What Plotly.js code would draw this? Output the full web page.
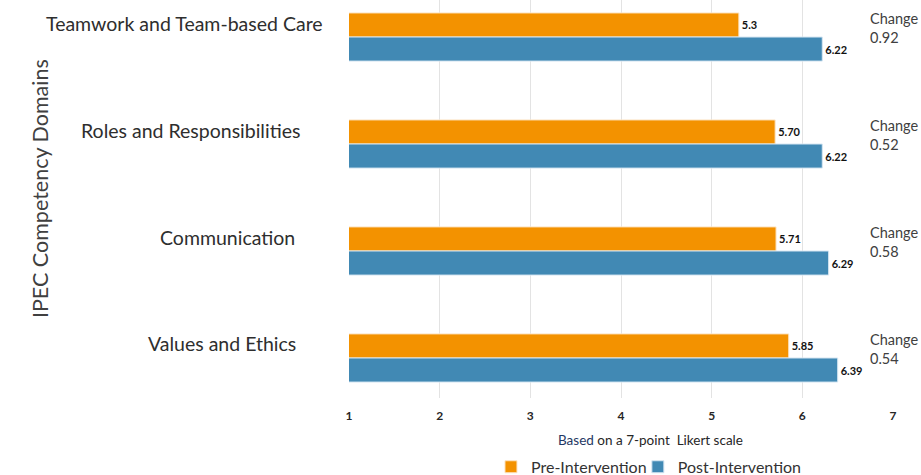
<!DOCTYPE html>
<html>
<head>
<meta charset="utf-8">
<script src="https://cdn.plot.ly/plotly-3.0.1.min.js"></script>
<style>
html,body{margin:0;padding:0;background:#fff;}
#chart{width:921px;height:475px;}
</style>
</head>
<body>
<div id="chart"></div>
<script>
var categories = ["Teamwork and Team-based Care", "Roles and Responsibilities", "Communication", "Values and Ethics"];
var preValues = [5.30, 5.70, 5.71, 5.85];
var postValues = [6.22, 6.22, 6.29, 6.39];
var preLabels = ["5.3", "5.70", "5.71", "5.85"];
var postLabels = ["6.22", "6.22", "6.29", "6.39"];
var changeValues = ["0.92", "0.52", "0.58", "0.54"];
var xTicks = [1, 2, 3, 4, 5, 6, 7];

var labelFont = "Lato, 'Open Sans', sans-serif";
var textColor = "#404040";

var tracePre = {
  type: "bar", orientation: "h", name: "Pre-Intervention", legend: "legend",
  y: categories, x: preValues, base: 0,
  text: preLabels, textposition: "outside", cliponaxis: false,
  textfont: {family: labelFont, size: 11, color: "#111", weight: "bold"},
  marker: {color: "#F39200", line: {color: "#FCE4C4", width: 1}},
  hoverinfo: "x+name"
};
var tracePost = {
  type: "bar", orientation: "h", name: "Post-Intervention", legend: "legend2",
  y: categories, x: postValues, base: 0,
  text: postLabels, textposition: "outside", cliponaxis: false,
  textfont: {family: labelFont, size: 11, color: "#111", weight: "bold"},
  marker: {color: "#4189B4", line: {color: "#D6E6F2", width: 1}},
  hoverinfo: "x+name"
};

var catLabelX = [-0.044, -0.086, -0.096, -0.094];
var annotations = [];
categories.forEach(function(c, i) {
  annotations.push({
    xref: "paper", yref: "y", x: catLabelX[i], y: c, yshift: 14,
    xanchor: "right", yanchor: "middle", showarrow: false,
    text: c, font: {family: labelFont, size: 19.5, color: "#2e2e2e"}
  });
  annotations.push({
    xref: "x", yref: "y", x: 6.72, y: c, yshift: 9,
    xanchor: "left", yanchor: "middle", showarrow: false, align: "left",
    bgcolor: "#ffffff",
    text: "Change<br>" + changeValues[i],
    font: {family: labelFont, size: 14.5, color: textColor}
  });
});
annotations.push({
  xref: "paper", yref: "paper", x: 0.555, y: -0.1055,
  xanchor: "center", yanchor: "middle", showarrow: false,
  text: '<span style="color:#1F3864">Based</span> on a 7-point  Likert scale',
  font: {family: labelFont, size: 13.5, color: "#262626"}
});
annotations.push({
  xref: "paper", yref: "paper", x: -0.568, y: 0.525,
  xanchor: "center", yanchor: "middle", showarrow: false, textangle: -90,
  text: "IPEC Competency Domains",
  font: {family: labelFont, size: 21.5, color: textColor}
});

var legendFont = {family: labelFont, size: 16, color: "#333333"};

var layout = {
  width: 921, height: 475,
  margin: {l: 349, r: 28, t: 0, b: 77, autoexpand: false},
  paper_bgcolor: "#ffffff", plot_bgcolor: "#ffffff",
  barmode: "group", bargap: 0.55, bargroupgap: 0,
  showlegend: true,
  legend: {orientation: "h", x: 0.261, xanchor: "left", y: -0.173, yanchor: "middle",
           itemwidth: 30, font: legendFont, bgcolor: "rgba(0,0,0,0)"},
  legend2: {orientation: "h", x: 0.531, xanchor: "left", y: -0.173, yanchor: "middle",
           itemwidth: 30, font: legendFont, bgcolor: "rgba(0,0,0,0)"},
  xaxis: {
    range: [1, 7], tickmode: "array", tickvals: xTicks,
    showgrid: true, gridcolor: "#E3E3E3", gridwidth: 1,
    zeroline: false, showline: false, ticks: "",
    tickfont: {family: labelFont, size: 12, color: "#262626", weight: "bold"},
    ticklabelstandoff: 9
  },
  yaxis: {
    type: "category", categoryorder: "array", categoryarray: categories,
    range: [3.374, -0.346], showticklabels: false, showgrid: false, zeroline: false, ticks: ""
  },
  annotations: annotations
};

Plotly.newPlot("chart", [tracePre, tracePost], layout, {displayModeBar: false, staticPlot: true});
</script>
</body>
</html>
